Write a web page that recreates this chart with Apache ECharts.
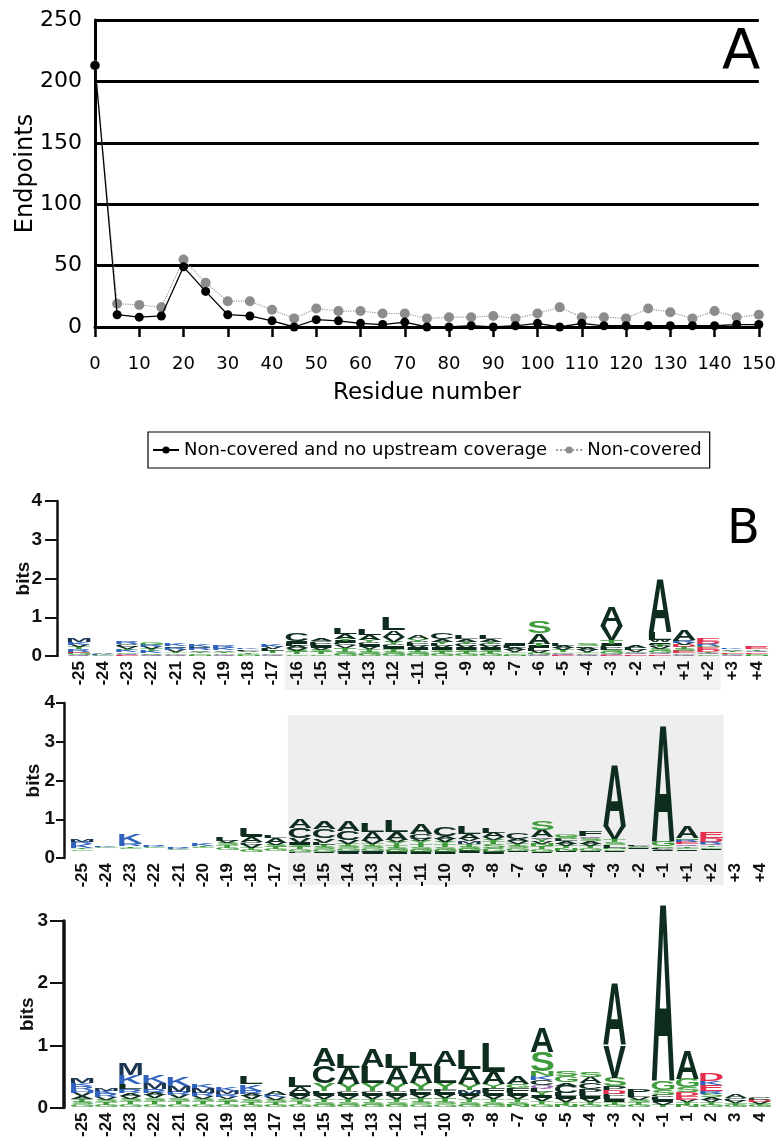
<!DOCTYPE html>
<html><head><meta charset="utf-8">
<script src="https://cdn.jsdelivr.net/npm/echarts@6/dist/echarts.min.js"></script>
<style>html,body{margin:0;padding:0;background:#fff}#c{width:779px;height:1140px}</style>
</head><body><div id="c"></div>
<script>
// ---------- Panel A data ----------
const residues = [0,5,10,15,20,25,30,35,40,45,50,55,60,65,70,75,80,85,90,95,100,105,110,115,120,125,130,135,140,145,150];
const noUpstream = [213,10,8,9,49,29,10,9,5,0,6,5,3,2,4,0,0,1,0,1,3,0,3,1,1,1,1,1,1,2,2];
const nonCovered = [213,19,18,16,55,36,21,21,14,7,15,13,13,11,11,7,8,8,9,7,11,16,8,8,7,15,12,7,13,8,10];
const seriesNames = ['Non-covered and no upstream coverage','Non-covered'];

// ---------- Panel B data (sequence logos, letter:bits stacked bottom to top, "_" = empty) ----------
const logoLabels = ['-25','-24','-23','-22','-21','-20','-19','-18','-17','-16','-15','-14','-13','-12','-11','-10','-9','-8','-7','-6','-5','-4','-3','-2','-1','+1','+2','+3','+4'];
const logoLabels3 = ['-25','-24','-23','-22','-21','-20','-19','-18','-17','-16','-15','-14','-13','-12','-11','-10','-9','-8','-7','-6','-5','-4','-3','-2','-1','1','2','3','4'];
const logo1 = [
 "Q.03 G.05 E.03 R.06 T.05 V.06 K.07 M.09",
 "G.03 K.03 A.04",
 "E.03 Q.03 G.04 K.05 T.04 V.05 C.06 R.06",
 "Q.03 S.04 K.05 T.05 V.05 R.06 G.07",
 "Q.03 G.04 T.04 V.05 R.05 C.04 K.07",
 "N.03 G.04 T.04 V.04 R.05 C.03 K.06",
 "Q.03 G.04 T.04 V.04 K.05 R.05",
 "N.03 G.03 T.04 V.04 L.04 K.04",
 "Q.03 G.04 T.05 L.05 V.05 K.06",
 "G.04 T.05 S.05 V.06 A.06 L.06 I.06 C.19",
 "G.04 T.05 S.06 V.05 I.05 L.06 C.08 A.08",
 "G.05 S.06 T.10 V.07 C.06 I.05 Y.06 A.13 L.16",
 "G.05 S.05 T.08 V.06 I.05 C.06 Y.06 A.14 L.15",
 "G.05 S.05 T.08 I.06 C.06 Y.06 V.14 A.16 L.32",
 "G.05 S.05 T.06 I.05 V.05 L.05 C.06 Y.06 A.10",
 "G.05 T.05 S.06 I.05 V.05 L.05 Y.06 A.06 C.15",
 "G.05 T.05 S.05 I.05 V.05 C.06 Y.06 A.07 L.10",
 "G.05 T.06 S.05 I.05 V.05 C.05 Y.06 A.06 L.09",
 "N.03 G.04 T.04 V.05 A.05 L.05 I.05",
 "Q.03 G.05 V.06 L.06 I.05 T.07 A.27 S.31",
 "E.03 Q.03 G.04 T.05 V.05 A.05 L.06",
 "Q.03 G.04 T.04 V.05 A.05 L.04 S.05",
 "E.03 Q.03 G.05 S.05 L.05 C.05 I.05 T.10 V.36 A.50",
 "E.04 Q.03 G.04 V.05 L.05 A.06",
 "E.03 Q.04 G.05 S.05 V.05 T.05 C.05 I.04 W.05 L.20 A1.38",
 "Q.03 G.04 E.05 S.05 T.05 D.06 V.05 R.05 L.04 A.28",
 "G.03 Q.04 T.04 D.05 E.06 N.04 R.05 D.06 E.08",
 "Q.03 G.03 E.04 T.04 V.04 K.04",
 "N.03 G.03 E.04 Q.04 T.04 E.05 D.04"
];
const logo2 = [
 "_.18 G.04 T.03 K.10 R.06 M.08",
 "_.26 G.02 K.03",
 "_.24 G.03 T.03 R.06 H.04 K.22",
 "_.26 G.02 K.03 R.02",
 "_.20 G.02 K.03 R.02",
 "_.25 G.03 T.03 K.05",
 "_.20 G.06 T.08 S.06 V.05 L.08",
 "_.15 G.05 T.06 V.08 C.07 A.12 I.05 L.20",
 "_.18 G.05 T.05 S.05 V.06 A.12 L.06",
 "_.12 L.04 G.06 T.06 S.06 I.06 V.12 C.26 A.22",
 "_.12 I.04 G.06 S.06 T.06 L.05 V.11 C.25 A.20",
 "_.10 I.05 M.04 G.06 S.06 T.05 V.09 C.25 A.28",
 "_.10 I.05 M.04 G.06 S.06 T.06 V.08 A.22 L.22",
 "_.10 I.05 G.06 S.06 T.06 Y.08 V.06 A.20 L.28",
 "_.10 I.05 G.06 S.08 T.08 Y.08 V.05 C.12 A.26",
 "_.10 I.05 G.06 S.08 T.06 Y.06 V.08 A.08 C.25",
 "_.12 I.05 G.06 S.06 T.06 M.08 V.06 A.12 L.19",
 "_.10 I.05 G.10 S.10 T.06 Y.06 V.06 A.12 L.12",
 "_.15 I.04 G.06 S.06 T.06 V.06 A.06 C.16",
 "_.12 I.04 G.06 T.08 N.06 V.05 Y.08 Q.04 A.20 S.24",
 "_.15 I.04 N.06 T.06 V.06 A.06 L.06 S.06 G.07",
 "_.15 I.04 G.06 T.06 V.06 A.06 S.08 Q.06 F.12",
 "_.15 I.04 G.04 N.04 L.07 S.08 T.06 V.32 A1.60",
 "_.22 I.03 G.03 V.03 L.04",
 "_.18 I.03 V.03 L.03 S.04 G.12 A3.03",
 "_.18 I.04 G.04 T.04 Q.06 E.06 R.05 N.04 A.30",
 "_.20 I.04 G.04 T.04 Q.05 R.05 D.10 E.15",
 "G.01",
 "G.01"
];
const logo3 = [
 "G.05 S.04 T.05 A.04 V.05 H.05 R.06 K.05 M.08",
 "G.04 T.04 S.04 V.04 R.05 K.06 M.04",
 "G.05 T.05 S.04 V.04 A.05 R.06 L.08 K.15 M.18",
 "G.05 T.05 S.05 V.05 A.04 R.06 M.10 K.12",
 "G.05 T.05 S.05 V.05 R.05 M.10 K.14",
 "G.05 T.05 S.04 V.04 R.05 M.08 K.07",
 "G.05 T.04 S.04 V.04 R.04 M.06 K.06",
 "G.04 T.05 S.04 V.05 A.04 R.05 K.10 L.12",
 "G.04 T.04 S.04 V.04 K.04 A.07",
 "G.05 T.05 S.04 V.05 I.04 A.10 L.16",
 "G.04 S.04 T.05 V.05 I.04 L.04 Y.13 C.28 A.30",
 "G.04 S.04 T.05 V.05 I.04 C.04 Y.12 A.26 L.22",
 "G.04 S.04 T.05 V.05 I.04 C.04 Y.13 L.26 A.28",
 "G.04 S.04 T.05 V.05 I.04 C.04 Y.12 A.26 L.22",
 "G.05 S.04 T.06 V.05 I.04 F.04 Y.12 A.26 L.22",
 "G.05 S.04 T.06 V.05 I.04 F.04 Y.12 L.26 A.24",
 "G.04 S.04 T.05 V.05 I.04 M.06 Y.10 A.24 L.30",
 "G.04 S.04 T.05 V.05 I.05 F.08 Y.06 A.20 L.48",
 "N.04 S.04 T.05 V.06 I.04 F.08 G.06 A.12",
 "G.05 T.05 V.05 I.05 Y.05 L.05 Q.06 C.08 K.06 N.08 S.32 A.40",
 "N.04 T.05 V.05 I.04 L.05 C.12 A.05 G.10 S.08",
 "G.04 T.05 V.05 I.04 L.05 P.06 C.10 A.10 S.08",
 "G.04 T.05 I.04 L.05 C.04 D.06 P.06 S.14 V.52 A1.00",
 "G.04 T.04 S.04 V.04 L.05 P.08",
 "T.04 V.04 I.04 L.04 C.04 S.08 G.14 A2.86",
 "N.04 T.04 V.04 E.06 D.06 S.08 G.14 A.45",
 "G.04 T.04 V.04 A.04 S.06 R.04 E.10 K.06 D.12",
 "G.03 T.04 V.04 C.04 A.06",
 "G.03 T.03 V.03 D.03 C.04"
];
const letterColors = {
  A:'#0e2d1f', L:'#0e2d1f', V:'#0e2d1f', I:'#0e2d1f', C:'#0e2d1f', F:'#0e2d1f', W:'#0e2d1f', P:'#0e2d1f',
  M:'#1c3652',
  S:'#3f9c3c', T:'#3f9c3c', G:'#3f9c3c', Y:'#3f9c3c', N:'#3f9c3c',
  Q:'#8a5ca8',
  K:'#2f62bd', R:'#2f62bd', H:'#2f62bd',
  D:'#e2304e', E:'#e2304e'
};

// ---------- helpers ----------
function parseStacks(arr){
  return arr.map(s => s.trim().split(/\s+/).map(t => [t[0], parseFloat(t.slice(1))]));
}
const LOGO_FONT = 'bold 100px "Liberation Sans"';
const mctx = document.createElement('canvas').getContext('2d');
mctx.font = LOGO_FONT; mctx.textAlign = 'center'; mctx.textBaseline = 'middle';
const gcache = {};
function glyph(ch){
  if (!gcache[ch]) {
    const t = mctx.measureText(ch);
    const L = t.actualBoundingBoxLeft, R = t.actualBoundingBoxRight, A = t.actualBoundingBoxAscent, D = t.actualBoundingBoxDescent;
    gcache[ch] = {L, R, A, D, w: L + R, h: A + D};
  }
  return gcache[ch];
}
function makeRenderer(stacks){
  return function(params, api){
    const i = params.dataIndex;
    const base = api.coord([i, 0]);
    const sz = api.size([1, 1]);
    const bw = sz[0], ppb = sz[1];
    const w = bw * 0.94;
    const left = base[0] - w / 2;
    let cum = 0;
    const children = [];
    for (const [ch, h] of stacks[i]) {
      const hp = h * ppb;
      const bottom = base[1] - cum * ppb;
      cum += h;
      if (ch === '_' || hp < 0.4) continue;
      const m = glyph(ch);
      const sx = w / m.w, sy = hp / m.h;
      children.push({
        type: 'text', silent: true,
        x: left + sx * m.L, y: bottom - sy * m.D, scaleX: sx, scaleY: sy,
        style: {text: ch, x: 0, y: 0, font: LOGO_FONT, fill: letterColors[ch] || '#333',
                align: 'center', verticalAlign: 'middle'}
      });
    }
    return {type: 'group', children};
  };
}
const stacks1 = parseStacks(logo1), stacks2 = parseStacks(logo2), stacks3 = parseStacks(logo3);
const sumOf = st => st.reduce((a, b) => a + b[1], 0);

const chart = echarts.init(document.getElementById('c'), null, {renderer: 'canvas'});
const FA = '"DejaVu Sans"';
const FB = '"Liberation Sans"';

function logoX(gi, labels){
  return {type: 'category', gridIndex: gi, data: labels, boundaryGap: true,
    axisLine: {show: false}, axisTick: {show: false},
    axisLabel: {interval: 0, rotate: 90, margin: 5, color: '#111', fontFamily: FB, fontWeight: 'bold', fontSize: 17}};
}
function logoY(gi, max, offset, lw, tickLen, labelMargin, nameGap){
  return {type: 'value', gridIndex: gi, min: 0, max: max, interval: 1, offset: offset,
    name: 'bits', nameLocation: 'middle', nameGap: nameGap, nameMoveOverlap: false,
    nameTextStyle: {fontFamily: FB, fontWeight: 'bold', fontSize: 19, color: '#111'},
    axisLine: {show: true, lineStyle: {color: '#111', width: lw}},
    axisTick: {show: true, length: tickLen, lineStyle: {color: '#111', width: 2}},
    axisLabel: {margin: labelMargin, color: '#111', fontFamily: FB, fontWeight: 'bold', fontSize: 19},
    splitLine: {show: false}};
}

const option = {
  animation: false,
  backgroundColor: '#fff',
  grid: [
    {left: 95, top: 20, width: 666, height: 307},
    {left: 67, top: 501, width: 702, height: 155},
    {left: 70, top: 703, width: 702, height: 155},
    {left: 70, top: 921, width: 702, height: 195}
  ],
  legend: {
    data: seriesNames, left: 148, top: 432, orient: 'horizontal',
    borderColor: '#000', borderWidth: 1.2, padding: [9, 8, 9, 4], itemGap: 8,
    itemWidth: 26, itemHeight: 9,
    textStyle: {fontFamily: FA, fontSize: 18, color: '#000'}
  },
  xAxis: [
    {type: 'value', gridIndex: 0, min: 0, max: 150, interval: 10,
     name: 'Residue number', nameLocation: 'middle', nameGap: 55, nameMoveOverlap: false,
     nameTextStyle: {fontFamily: FA, fontSize: 23, color: '#000'},
     axisLine: {show: true, onZero: false, lineStyle: {color: '#000', width: 3}},
     axisTick: {show: true, length: 10, lineStyle: {color: '#000', width: 2.5}},
     axisLabel: {margin: 28, color: '#000', fontFamily: FA, fontSize: 18},
     splitLine: {show: false}},
    logoX(1, logoLabels), logoX(2, logoLabels), logoX(3, logoLabels3)
  ],
  yAxis: [
    {type: 'value', gridIndex: 0, min: 0, max: 250, interval: 50,
     name: 'Endpoints', nameLocation: 'middle', nameGap: 57, nameMoveOverlap: false,
     nameTextStyle: {fontFamily: FA, fontSize: 24, color: '#000'},
     axisLine: {show: true, lineStyle: {color: '#000', width: 3}},
     axisTick: {show: false},
     axisLabel: {margin: 13, color: '#000', fontFamily: FA, fontSize: 22},
     splitLine: {show: true, lineStyle: {color: '#000', width: 3}}},
    logoY(1, 4, 10, 2.5, 12, 15, 24),
    logoY(2, 4, 6, 2.5, 8, 9, 21),
    logoY(3, 3, 6, 3.5, 14, 16, 27)
  ],
  series: [
    {type: 'line', name: seriesNames[1], xAxisIndex: 0, yAxisIndex: 0, z: 3,
     data: residues.map((r, i) => [r, nonCovered[i]]),
     symbol: 'circle', symbolSize: 10, showSymbol: true,
     lineStyle: {color: '#9a9a9a', width: 1.2, type: 'dotted'},
     itemStyle: {color: '#8c8c8c'}},
    {type: 'line', name: seriesNames[0], xAxisIndex: 0, yAxisIndex: 0, z: 4,
     data: residues.map((r, i) => [r, noUpstream[i]]),
     symbol: 'circle', symbolSize: 9, showSymbol: true,
     lineStyle: {color: '#000', width: 1.3},
     itemStyle: {color: '#000'}},
    {type: 'custom', xAxisIndex: 1, yAxisIndex: 1, z: 5, clip: false, silent: true,
     renderItem: makeRenderer(stacks1), encode: {x: 0, y: 1},
     data: stacks1.map((s, i) => [i, sumOf(s)])},
    {type: 'custom', xAxisIndex: 2, yAxisIndex: 2, z: 5, clip: false, silent: true,
     renderItem: makeRenderer(stacks2), encode: {x: 0, y: 1},
     data: stacks2.map((s, i) => [i, sumOf(s)])},
    {type: 'custom', xAxisIndex: 3, yAxisIndex: 3, z: 5, clip: false, silent: true,
     renderItem: makeRenderer(stacks3), encode: {x: 0, y: 1},
     data: stacks3.map((s, i) => [i, sumOf(s)])}
  ],
  graphic: [
    {type: 'text', left: 722, top: 25, z: 10, style: {text: 'A', font: '56px ' + FA, fill: '#000'}},
    {type: 'text', left: 727, top: 507, z: 10, style: {text: 'B', font: '48px ' + FA, fill: '#000'}}
  ]
};
chart.setOption(option);

// light grey shading behind the -16 ... +2 region of the first two logos
function band(xi, a, b){
  const pa = chart.convertToPixel({xAxisIndex: xi}, a);
  const pb = chart.convertToPixel({xAxisIndex: xi}, b);
  const bw = (pb - pa) / (logoLabels.indexOf(b) - logoLabels.indexOf(a));
  return [pa - bw / 2, pb + bw / 2];
}
const s1 = band(1, '-16', '+2');
const s2 = band(2, '-16', '+2');
const y1b = chart.convertToPixel({yAxisIndex: 1}, 0);
const y2t = chart.convertToPixel({yAxisIndex: 2}, 4);
const y2b = chart.convertToPixel({yAxisIndex: 2}, 0);
chart.setOption({graphic: option.graphic.concat([
  {type: 'rect', z: 0, silent: true, shape: {x: s1[0], y: y1b - 4, width: s1[1] - s1[0], height: 38}, style: {fill: '#f2f2f2'}},
  {type: 'rect', z: 0, silent: true, shape: {x: s2[0], y: y2t + 12, width: s2[1] - s2[0], height: y2b - y2t + 15}, style: {fill: '#eeeeee'}}
])});
</script>
</body></html>
